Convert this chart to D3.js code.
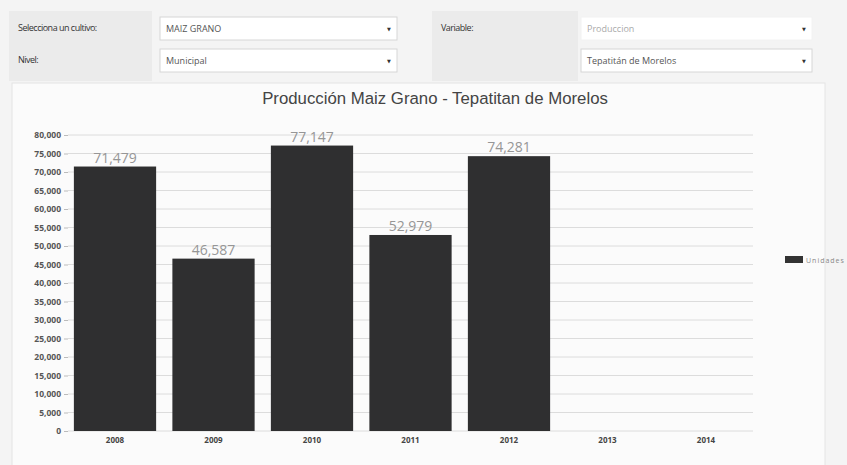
<!DOCTYPE html>
<html>
<head>
<meta charset="utf-8">
<script src="https://cdn.jsdelivr.net/npm/d3@7"></script>
<style>
  body { margin: 0; background: #f4f4f4; }
  svg { display: block; }
</style>
</head>
<body>
<svg id="chart" width="847" height="465"></svg>
<script>
// datos del grafico
const years = ["2008", "2009", "2010", "2011", "2012", "2013", "2014"];
const produccion = [71479, 46587, 77147, 52979, 74281, null, null];
const yTicks = [0, 5000, 10000, 15000, 20000, 25000, 30000, 35000, 40000, 45000, 50000, 55000, 60000, 65000, 70000, 75000, 80000];
const title = "Producción Maiz Grano - Tepatitan de Morelos";
const seriesName = "Unidades";

// controles de arriba
const labels = [
  { text: "Selecciona un cultivo:", x: 18, y: 31 },
  { text: "Nivel:", x: 18, y: 63 },
  { text: "Variable:", x: 441, y: 31 }
];
const selects = [
  { text: "MAIZ GRANO", x: 160, y: 17, w: 237, faded: false },
  { text: "Municipal", x: 160, y: 49, w: 237, faded: false },
  { text: "Produccion", x: 581, y: 17, w: 231, faded: true },
  { text: "Tepatitán de Morelos", x: 581, y: 49, w: 231, faded: false }
];

const svg = d3.select("#chart");

// panel boxes
svg.append("rect").attr("x", 9).attr("y", 11).attr("width", 143).attr("height", 70).attr("fill", "#ebebeb");
svg.append("rect").attr("x", 432).attr("y", 11).attr("width", 146).attr("height", 70).attr("fill", "#ebebeb");
svg.append("rect").attr("x", 12).attr("y", 83).attr("width", 813).attr("height", 390)
  .attr("fill", "#fbfbfb").attr("stroke", "#e4e4e4");

svg.selectAll(".lbl").data(labels).join("text")
  .attr("class", "lbl")
  .attr("x", d => d.x).attr("y", d => d.y)
  .attr("font-family", "Open Sans").attr("font-size", 9).attr("letter-spacing", -0.5)
  .attr("fill", "#333").text(d => d.text);

const sel = svg.selectAll(".sel").data(selects).join("g").attr("class", "sel")
  .attr("transform", d => `translate(${d.x},${d.y})`);
sel.append("rect").attr("width", d => d.w).attr("height", 23)
  .attr("fill", "#fff").attr("stroke", d => d.faded ? "#f2f2f2" : "#d6d6d6");
sel.append("text").attr("x", 6).attr("y", 15)
  .attr("font-family", "Open Sans").attr("font-size", 9)
  .attr("fill", d => d.faded ? "#aaa" : "#555").text(d => d.text);
sel.append("text").attr("x", d => d.w - 8).attr("y", 14)
  .attr("font-family", "DejaVu Sans").attr("font-size", 5).attr("text-anchor", "middle")
  .attr("fill", "#333").text("▼");

svg.append("text").attr("x", 435).attr("y", 104).attr("text-anchor", "middle")
  .attr("font-family", "Liberation Sans").attr("font-size", 16.8).attr("fill", "#444")
  .text(title);

// escalas
const x = d3.scaleBand().domain(years).range([66, 755]).paddingInner(0.165).paddingOuter(0.08);
const y = d3.scaleLinear().domain([0, 80000]).range([431, 135]);

// grid
svg.append("g").selectAll("line").data(yTicks).join("line")
  .attr("x1", 68).attr("x2", 753)
  .attr("y1", d => y(d)).attr("y2", d => y(d))
  .attr("stroke", "#dcdcdc");

const yAxis = svg.append("g").attr("transform", "translate(68,0)")
  .call(d3.axisLeft(y).tickValues(yTicks).tickSize(4).tickPadding(3).tickFormat(d3.format(",")));
yAxis.select(".domain").remove();
yAxis.selectAll("line").attr("stroke", "#bbb");
yAxis.selectAll("text").attr("font-family", "Open Sans").attr("font-size", 8.5)
  .attr("font-weight", "bold").attr("fill", "#555");

const xAxis = svg.append("g").attr("transform", "translate(0,431)")
  .call(d3.axisBottom(x).tickSize(0).tickPadding(6));
xAxis.select(".domain").remove();
xAxis.selectAll("text").attr("font-family", "Open Sans").attr("font-size", 8)
  .attr("font-weight", "bold").attr("fill", "#444");

const data = years.map((yr, i) => ({ year: yr, value: produccion[i] })).filter(d => d.value != null);

svg.append("g").selectAll("rect").data(data).join("rect")
  .attr("x", d => x(d.year)).attr("width", x.bandwidth())
  .attr("y", d => y(d.value)).attr("height", d => y(0) - y(d.value))
  .attr("fill", "#2f2f30");

svg.append("g").selectAll("text").data(data).join("text")
  .attr("x", d => x(d.year) + x.bandwidth() / 2)
  .attr("y", d => y(d.value) - 4)
  .attr("text-anchor", "middle")
  .attr("font-family", "Open Sans").attr("font-size", 14)
  .attr("fill", "#969696")
  .text(d => d3.format(",")(d.value));

// leyenda
svg.append("rect").attr("x", 785).attr("y", 256).attr("width", 18).attr("height", 7).attr("fill", "#333");
svg.append("text").attr("x", 806).attr("y", 263)
  .attr("font-family", "Open Sans").attr("font-size", 7).attr("letter-spacing", 1)
  .attr("fill", "#888").text(seriesName);
</script>
</body>
</html>
